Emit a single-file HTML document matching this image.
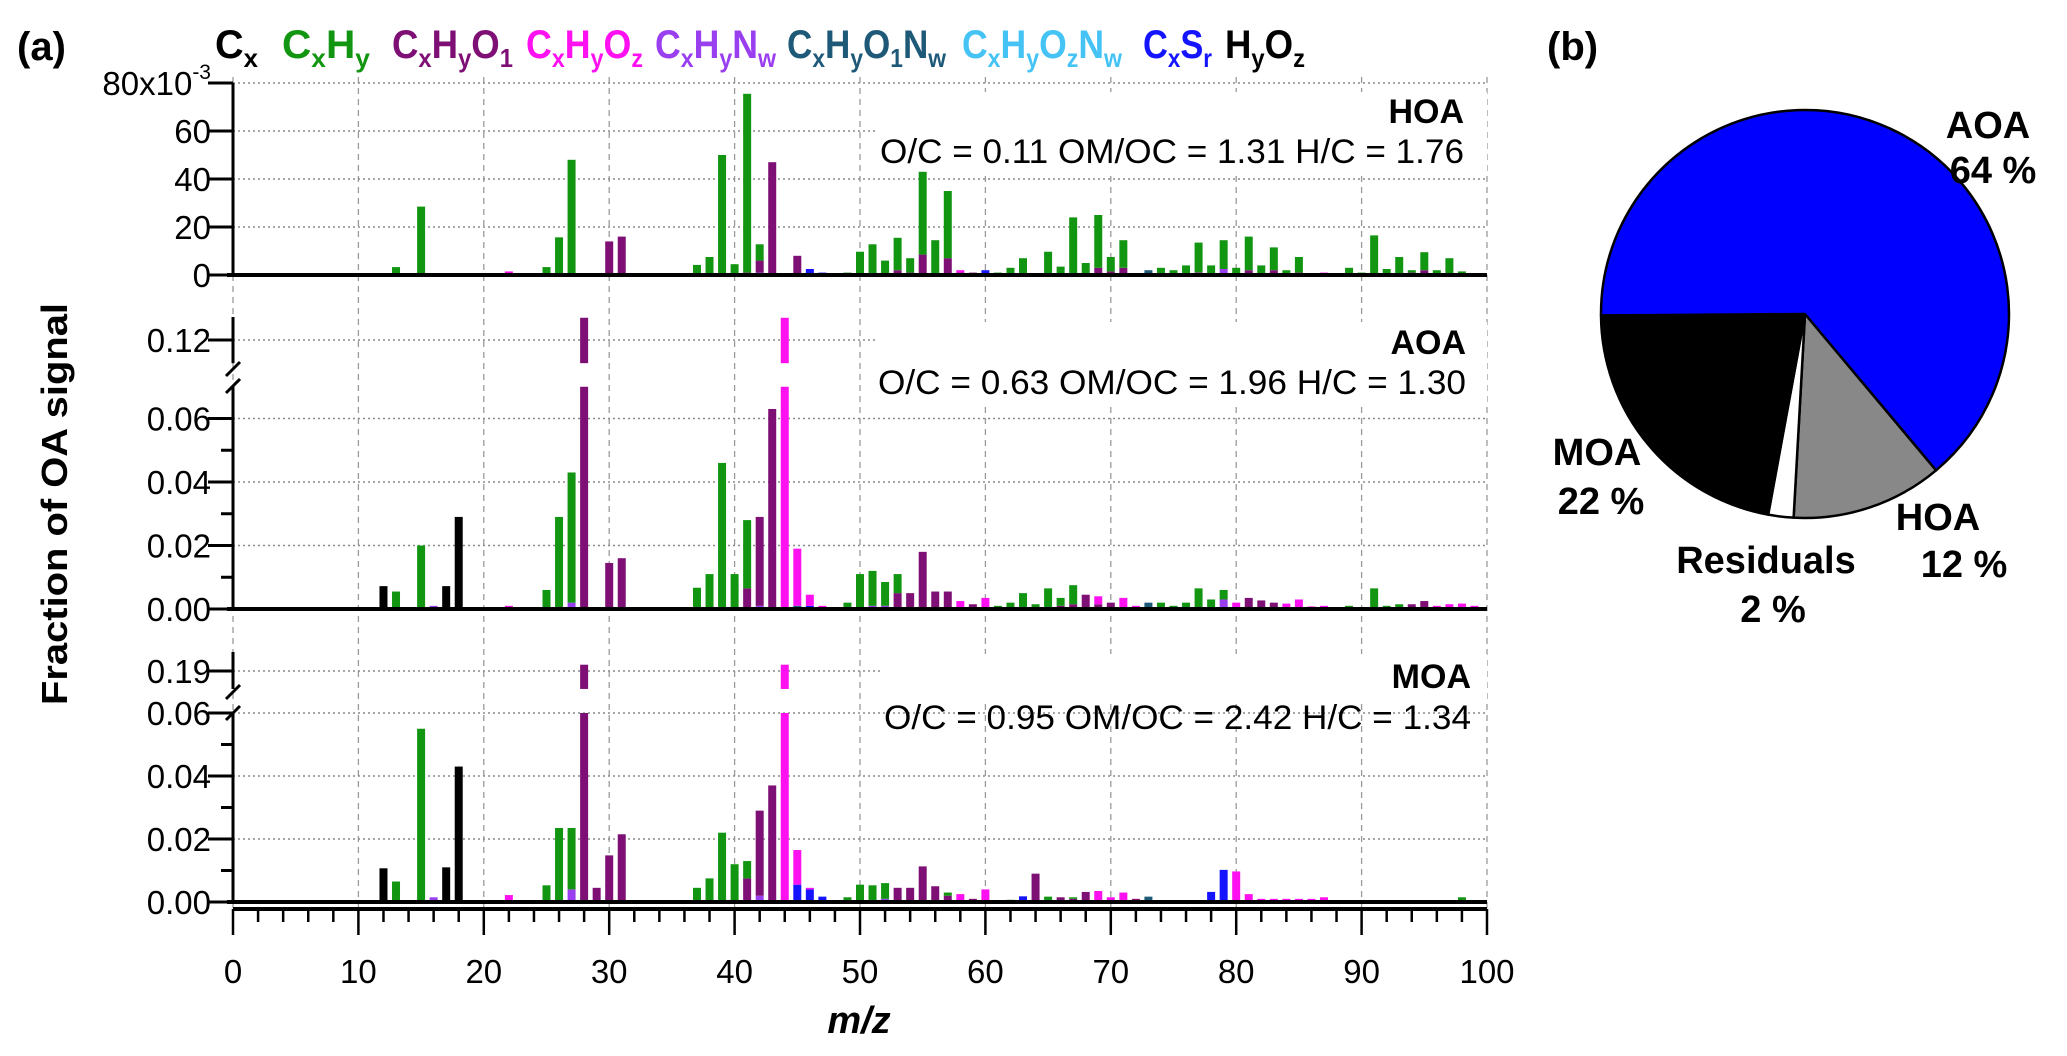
<!DOCTYPE html>
<html><head><meta charset="utf-8"><style>
html,body{margin:0;padding:0;background:#fff;}
svg{display:block;font-family:"Liberation Sans",Arial,sans-serif;}
</style></head><body>
<svg id="chart" width="2067" height="1056" viewBox="0 0 2067 1056" xmlns="http://www.w3.org/2000/svg">
<g id="grid"></g>
<g id="bars"></g>
<g id="axes"></g>
<g id="labels"></g>
<text x="17" y="60" font-size="40" font-weight="bold">(a)</text>
<text x="1547" y="60" font-size="40" font-weight="bold">(b)</text>
<g font-size="40" font-weight="bold">
 <text x="215" y="58" fill="#000" textLength="43" lengthAdjust="spacingAndGlyphs">C<tspan font-size="26" dy="9">x</tspan></text>
 <text x="282" y="58" fill="#129612" textLength="88" lengthAdjust="spacingAndGlyphs">C<tspan font-size="26" dy="9">x</tspan><tspan dy="-9">H</tspan><tspan font-size="26" dy="9">y</tspan></text>
 <text x="392" y="58" fill="#7e0f75" textLength="121" lengthAdjust="spacingAndGlyphs">C<tspan font-size="26" dy="9">x</tspan><tspan dy="-9">H</tspan><tspan font-size="26" dy="9">y</tspan><tspan dy="-9">O</tspan><tspan font-size="26" dy="9">1</tspan></text>
 <text x="526" y="58" fill="#ff10f0" textLength="117" lengthAdjust="spacingAndGlyphs">C<tspan font-size="26" dy="9">x</tspan><tspan dy="-9">H</tspan><tspan font-size="26" dy="9">y</tspan><tspan dy="-9">O</tspan><tspan font-size="26" dy="9">z</tspan></text>
 <text x="655" y="58" fill="#9a3ff0" textLength="121" lengthAdjust="spacingAndGlyphs">C<tspan font-size="26" dy="9">x</tspan><tspan dy="-9">H</tspan><tspan font-size="26" dy="9">y</tspan><tspan dy="-9">N</tspan><tspan font-size="26" dy="9">w</tspan></text>
 <text x="787" y="58" fill="#1e5a78" textLength="159" lengthAdjust="spacingAndGlyphs">C<tspan font-size="26" dy="9">x</tspan><tspan dy="-9">H</tspan><tspan font-size="26" dy="9">y</tspan><tspan dy="-9">O</tspan><tspan font-size="26" dy="9">1</tspan><tspan dy="-9">N</tspan><tspan font-size="26" dy="9">w</tspan></text>
 <text x="962" y="58" fill="#45c3f5" textLength="160" lengthAdjust="spacingAndGlyphs">C<tspan font-size="26" dy="9">x</tspan><tspan dy="-9">H</tspan><tspan font-size="26" dy="9">y</tspan><tspan dy="-9">O</tspan><tspan font-size="26" dy="9">z</tspan><tspan dy="-9">N</tspan><tspan font-size="26" dy="9">w</tspan></text>
 <text x="1143" y="58" fill="#1414ff" textLength="69" lengthAdjust="spacingAndGlyphs">C<tspan font-size="26" dy="9">x</tspan><tspan dy="-9">S</tspan><tspan font-size="26" dy="9">r</tspan></text>
 <text x="1225" y="58" fill="#000" textLength="80" lengthAdjust="spacingAndGlyphs">H<tspan font-size="26" dy="9">y</tspan><tspan dy="-9">O</tspan><tspan font-size="26" dy="9">z</tspan></text>
</g>
<text transform="translate(67,504) rotate(-90)" text-anchor="middle" font-size="36" font-weight="bold" textLength="402" lengthAdjust="spacingAndGlyphs">Fraction of OA signal</text>
<text x="859" y="1033" text-anchor="middle" font-size="38" font-weight="bold" font-style="italic">m/z</text>
<g id="pie"></g>
<g font-size="38" font-weight="bold" text-anchor="middle">
 <text x="1988" y="138">AOA</text>
 <text x="1993" y="183">64 %</text>
 <text x="1597" y="465">MOA</text>
 <text x="1601" y="514">22 %</text>
 <text x="1938" y="530">HOA</text>
 <text x="1964" y="577">12 %</text>
 <text x="1766" y="573">Residuals</text>
 <text x="1773" y="622">2 %</text>
</g>
</svg>
<script>
const NS='http://www.w3.org/2000/svg';
const families=['Cx','HyOz','CxSr','CxHyOzNw','CxHyO1Nw','CxHyNw','CxHyO1','CxHyOz','CxHy'];
const famColors={Cx:'#000',HyOz:'#000',CxSr:'#1414ff',CxHyOzNw:'#45c3f5',CxHyO1Nw:'#1e5a78',CxHyNw:'#9a3ff0',CxHyO1:'#7e0f75',CxHyOz:'#ff10f0',CxHy:'#129612'};
const xTicks=[0,10,20,30,40,50,60,70,80,90,100];
const hoaTickVals=[0,0.02,0.04,0.06,0.08];
const hoaTickLabels=['0','20','40','60','80x10'];
const aoaTickVals=[0,0.02,0.04,0.06,0.12];
const aoaTickLabels=['0.00','0.02','0.04','0.06','0.12'];
const moaTickVals=[0,0.02,0.04,0.06,0.19];
const moaTickLabels=['0.00','0.02','0.04','0.06','0.19'];
const pieNames=['HOA','Residuals','MOA','AOA'];
const pieValues=[12,2,22,64];
const pieColors=['#888888','#ffffff','#000000','#0000ff'];

const hoaCxHy=[[13,.0033],[15,.0285],[25,.0033],[26,.0157],[27,.048],[37,.0042],[38,.0075],[39,.05],[40,.0045],[41,.0745],[42,.0068],[49,.001],[50,.0097],[51,.0128],[52,.006],[53,.0135],[54,.006],[55,.0345],[56,.0145],[57,.028],[61,.001],[62,.003],[63,.007],[65,.0097],[66,.0035],[67,.024],[68,.005],[69,.022],[70,.006],[71,.0115],[74,.003],[75,.002],[76,.004],[77,.0125],[78,.004],[79,.012],[80,.003],[81,.014],[82,.004],[83,.0095],[84,.002],[85,.0065],[89,.003],[90,.001],[91,.0165],[92,.0025],[93,.0075],[94,.001],[95,.0075],[96,.002],[97,.007],[98,.001]];
const hoaCxHyO1=[[30,.014],[31,.016],[41,.001],[42,.005],[43,.047],[45,.008],[53,.002],[54,.001],[55,.0085],[57,.007],[58,.001],[59,.001],[69,.003],[70,.0015],[71,.003],[81,.002],[83,.002],[85,.001],[94,.001],[95,.002],[98,.0005]];
const hoaCxHyOz=[[22,.0015],[58,.001],[77,.001],[87,.001]];
const hoaCxHyNw=[[42,.001],[79,.0025]];
const hoaCxSr=[[46,.0025],[47,.001],[60,.002]];
const hoaCxHyO1Nw=[[73,.002]];

const aoaCx=[[12,.0072]];
const aoaHyOz=[[17,.0072],[18,.029]];
const aoaCxHy=[[13,.0055],[15,.020],[25,.006],[26,.029],[27,.041],[37,.0067],[38,.011],[39,.046],[40,.011],[41,.0215],[49,.002],[50,.011],[51,.011],[52,.0075],[53,.006],[61,.001],[62,.002],[63,.005],[64,.0015],[65,.0065],[66,.0025],[67,.006],[74,.002],[75,.001],[76,.002],[77,.0065],[78,.003],[79,.003],[89,.001],[91,.0065],[92,.001],[93,.0015]];
const aoaCxHyO1=[[28,.127],[30,.0145],[31,.016],[41,.0065],[42,.028],[43,.063],[53,.005],[54,.005],[55,.018],[56,.0055],[57,.0055],[59,.0015],[66,.001],[67,.0015],[68,.0045],[69,.0015],[70,.002],[81,.0035],[82,.0027],[83,.002],[94,.0015],[95,.0025]];
const aoaCxHyOz=[[22,.001],[44,.127],[45,.018],[46,.0035],[47,.001],[58,.0025],[60,.0035],[69,.0025],[71,.0035],[72,.001],[80,.002],[84,.0017],[85,.003],[86,.0008],[87,.001],[96,.001],[97,.0015],[98,.0017],[99,.001]];
const aoaCxHyNw=[[16,.001],[27,.002],[42,.001],[51,.001],[52,.001],[79,.003]];
const aoaCxHyO1Nw=[[45,.001],[73,.002]];
const aoaCxSr=[[46,.001]];

const moaCx=[[12,.0107]];
const moaHyOz=[[17,.011],[18,.043]];
const moaCxHy=[[13,.0065],[15,.055],[25,.0053],[26,.0235],[27,.0195],[37,.0045],[38,.0075],[39,.022],[40,.012],[41,.0055],[49,.0015],[50,.0055],[51,.0053],[52,.005],[57,.001],[62,.0007],[65,.0017],[67,.0005],[98,.0015]];
const moaCxHyO1=[[28,.192],[29,.0045],[30,.0148],[31,.0215],[41,.0075],[42,.027],[43,.037],[53,.0045],[54,.0045],[55,.0113],[56,.005],[57,.002],[59,.001],[64,.009],[66,.0015],[67,.001],[68,.0032],[72,.001]];
const moaCxHyOz=[[22,.0022],[44,.192],[45,.011],[46,.0005],[58,.0025],[60,.004],[69,.0035],[70,.0015],[71,.003],[80,.0097],[81,.0025],[82,.001],[83,.001],[84,.001],[85,.001],[86,.001],[87,.0015]];
const moaCxHyNw=[[16,.0015],[27,.004],[42,.002],[52,.001]];
const moaCxSr=[[45,.0055],[46,.004],[47,.0017],[63,.0018],[78,.0032],[79,.0102]];
const moaCxHyO1Nw=[[73,.0017]];

const X0=233, X1=1487;
function xs(m){return X0+m*(X1-X0)/100;}
function mk(tag,attrs,parent){const e=document.createElementNS(NS,tag);for(const k in attrs)e.setAttribute(k,attrs[k]);parent.appendChild(e);return e;}

const panels=[
 {name:'hoa',zero:275,ppu:2400,top:83,brk:null,ticks:hoaTickVals,labels:hoaTickLabels,
  data:{CxHy:hoaCxHy,CxHyO1:hoaCxHyO1,CxHyOz:hoaCxHyOz,CxHyNw:hoaCxHyNw,CxSr:hoaCxSr,CxHyO1Nw:hoaCxHyO1Nw},
  title:'HOA',stats:'O/C = 0.11 OM/OC = 1.31 H/C = 1.76',ty:123,sy:163,tr:1464,tl:584,box:[876,92,611,80]},
 {name:'aoa',zero:609,ppu:3175,top:317,brk:{lowMax:.07,highMin:.1127,refV:.12,refY:340,marks:[369,386]},ticks:aoaTickVals,labels:aoaTickLabels,
  data:{Cx:aoaCx,HyOz:aoaHyOz,CxHy:aoaCxHy,CxHyO1:aoaCxHyO1,CxHyOz:aoaCxHyOz,CxHyNw:aoaCxHyNw,CxHyO1Nw:aoaCxHyO1Nw,CxSr:aoaCxSr},
  title:'AOA',stats:'O/C = 0.63 OM/OC = 1.96 H/C = 1.30',ty:354,sy:394,tr:1466,tl:588,box:[876,322,611,82]},
 {name:'moa',zero:902,ppu:3150,top:652,brk:{lowMax:.06,highMin:.1843,refV:.19,refY:671,marks:[692,713]},ticks:moaTickVals,labels:moaTickLabels,
  data:{Cx:moaCx,HyOz:moaHyOz,CxHy:moaCxHy,CxHyO1:moaCxHyO1,CxHyOz:moaCxHyOz,CxHyNw:moaCxHyNw,CxSr:moaCxSr,CxHyO1Nw:moaCxHyO1Nw},
  title:'MOA',stats:'O/C = 0.95 OM/OC = 2.42 H/C = 1.34',ty:688,sy:729,tr:1471,tl:587,box:[880,654,607,46]}
];
function ys(p,v){
 if(!p.brk||v<=p.brk.lowMax) return p.zero-v*p.ppu;
 return p.brk.refY-(v-p.brk.refV)*p.ppu;
}
const grid=document.getElementById('grid'),bars=document.getElementById('bars'),axes=document.getElementById('axes'),labels=document.getElementById('labels');
xTicks.forEach(t=>{const l=mk('line',{x1:xs(t),x2:xs(t),y1:77,y2:935,stroke:'#9a9a9a','stroke-width':1.3,'stroke-dasharray':'6,5'},grid);

});
panels.forEach(p=>{
 p.ticks.forEach(v=>{ if(v===0)return;
  const g=mk('line',{x1:X0,x2:X1,y1:ys(p,v),y2:ys(p,v),stroke:'#8a8a8a','stroke-width':1.5,'stroke-dasharray':'2,3'},grid);
  
  });
 const b=mk('rect',{x:p.box[0],y:p.box[1],width:p.box[2],height:p.box[3],fill:'#fff'},grid);
 
 
 const stack={};
 families.forEach(f=>{const arr=p.data[f];if(!arr)return;
  arr.forEach(([m,v])=>{const base=stack[m]||0;const top=base+v;stack[m]=top;
   const segs=[];
   if(!p.brk) segs.push([base,top]);
   else{ if(base<p.brk.lowMax) segs.push([base,Math.min(top,p.brk.lowMax)]);
         if(top>p.brk.highMin) segs.push([Math.max(base,p.brk.highMin),top]); }
   segs.forEach(([a,c])=>{const y1=ys(p,c),y0=ys(p,a);
    const r=mk('rect',{x:xs(m)-4,y:y1,width:8,height:Math.max(0.8,y0-y1),fill:famColors[f]},bars);
    
    });
  });});
 const z=mk('line',{x1:X0-6,x2:X1,y1:p.zero,y2:p.zero,stroke:'#000','stroke-width':4},axes);
 
 
 if(!p.brk){const a=mk('line',{x1:X0,x2:X0,y1:p.top,y2:p.zero,stroke:'#000','stroke-width':3},axes);
  
  }
 else{const lowTop=ys(p,p.brk.lowMax),hiBot=ys(p,p.brk.highMin);
  const a1=mk('line',{x1:X0,x2:X0,y1:lowTop,y2:p.zero,stroke:'#000','stroke-width':3},axes);
  
  
  const a2=mk('line',{x1:X0,x2:X0,y1:p.top,y2:hiBot,stroke:'#000','stroke-width':3},axes);
  
  
  p.brk.marks.forEach(my=>{const bm=mk('line',{x1:X0-7,x2:X0+7,y1:my+7,y2:my-7,stroke:'#000','stroke-width':3},axes);
   
   });
  [0.01,0.03,0.05].forEach(v=>{const mt=mk('line',{x1:X0-12,x2:X0,y1:ys(p,v),y2:ys(p,v),stroke:'#000','stroke-width':3},axes);
   
   });
 }
 p.ticks.forEach((v,i)=>{const y=ys(p,v);
  const t=mk('line',{x1:X0-25,x2:X0,y1:y,y2:y,stroke:'#000','stroke-width':3},axes);
  
  
  const tx=mk('text',{x:211,y:y+12,'text-anchor':'end','font-size':33},labels);
  tx.textContent=p.labels[i];
  
  
  if(p.name==='hoa'&&i===p.ticks.length-1){const sp=mk('tspan',{'font-size':21,dy:-16},tx);sp.textContent='-3';}
 });
 const tt=mk('text',{x:p.tr,y:p.ty,'text-anchor':'end','font-size':34,'font-weight':'bold'},labels);
 tt.textContent=p.title;
 
 
 const st=mk('text',{x:p.tr-p.tl,y:p.sy,'font-size':34,textLength:p.tl,lengthAdjust:'spacingAndGlyphs'},labels);
 st.textContent=p.stats;
 
 
});
const xa=mk('line',{x1:X0,x2:X1,y1:909,y2:909,stroke:'#000','stroke-width':4},axes);


for(let m=0;m<=100;m+=2){const major=m%10===0;
 const t=mk('line',{x1:xs(m),x2:xs(m),y1:909,y2:major?935:922,stroke:'#000','stroke-width':2.5},axes);
 
 }
xTicks.forEach(v=>{const t=mk('text',{x:xs(v),y:983,'text-anchor':'middle','font-size':33},labels);
 t.textContent=v;
 
 });
const pie=document.getElementById('pie');const cx=1805,cy=314,R=204;
const total=pieValues.reduce((a,b)=>a+b,0);let ang=50;
pieValues.forEach((v,i)=>{const a0=ang*Math.PI/180,a1=(ang+v/total*360)*Math.PI/180;
 const large=(v/total)>0.5?1:0;
 const d=`M${cx},${cy} L${cx+R*Math.cos(a0)},${cy+R*Math.sin(a0)} A${R},${R} 0 ${large} 1 ${cx+R*Math.cos(a1)},${cy+R*Math.sin(a1)} Z`;
 const s=mk('path',{d:d,fill:pieColors[i],stroke:'#000','stroke-width':2.5,'stroke-linejoin':'round'},pie);
 
 
 ang+=v/total*360;});
</script>
</body></html>
